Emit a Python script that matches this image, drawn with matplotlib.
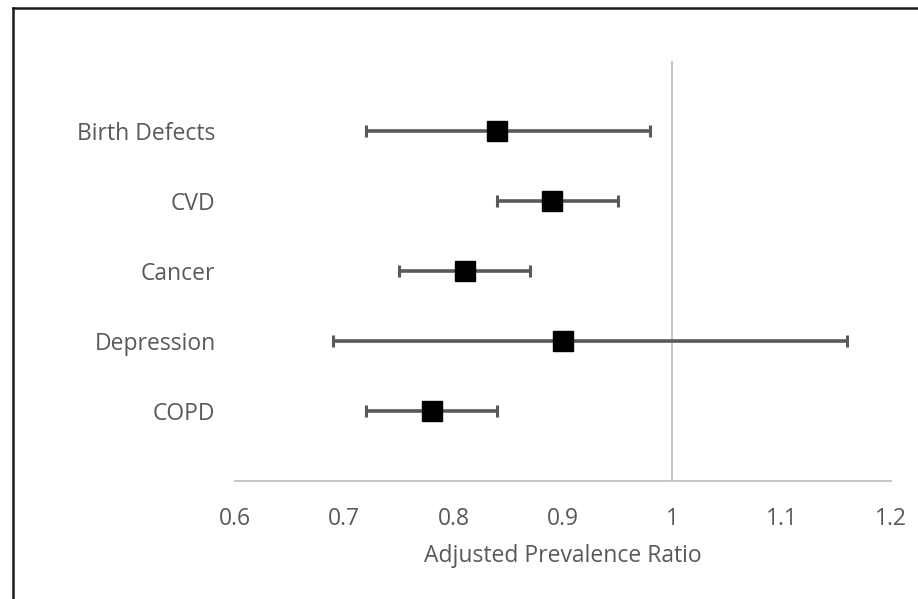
import matplotlib
matplotlib.use("Agg")
import matplotlib.pyplot as plt
from matplotlib.lines import Line2D

categories = ["Birth Defects", "CVD", "Cancer", "Depression", "COPD"]
estimates = [0.84, 0.89, 0.81, 0.90, 0.78]
lower = [0.72, 0.84, 0.75, 0.69, 0.72]
upper = [0.98, 0.95, 0.87, 1.16, 0.84]
x_ticks = [0.6, 0.7, 0.8, 0.9, 1.0, 1.1, 1.2]
x_tick_labels = ["0.6", "0.7", "0.8", "0.9", "1", "1.1", "1.2"]

plt.rcParams['font.family'] = ['Open Sans', 'DejaVu Sans']
TXT = "#595959"

W, H = 918, 599
fig = plt.figure(figsize=(W / 100, H / 100), dpi=100)
ax = fig.add_axes([235 / W, (H - 481) / H, (891 - 235) / W, (481 - 61) / H])

n = len(categories)
ys = [n - i for i in range(n)]
err_lo = [e - l for e, l in zip(estimates, lower)]
err_hi = [u - e for e, u in zip(estimates, upper)]

ax.axvline(1.0, color="#BFBFBF", lw=1.3, zorder=1)
ax.errorbar(estimates, ys, xerr=[err_lo, err_hi], fmt="none", ecolor="#595959",
            elinewidth=2.6, capsize=4.5, capthick=2.2, zorder=2)
ax.plot(estimates, ys, "s", color="black", markersize=15, zorder=3, linestyle="none")

ax.set_xlim(0.6, 1.2)
ax.set_ylim(0, 6)
ax.set_xticks(x_ticks)
ax.set_xticklabels(x_tick_labels)
ax.set_yticks(ys)
ax.set_yticklabels(categories)
ax.tick_params(axis="both", length=0, labelsize=16.5, colors=TXT)
ax.tick_params(axis="x", pad=19)
ax.tick_params(axis="y", pad=14)
for s in ["top", "right", "left"]:
    ax.spines[s].set_visible(False)
ax.spines["bottom"].set_color("#BFBFBF")
ax.spines["bottom"].set_linewidth(1.3)
ax.set_xlabel("Adjusted Prevalence Ratio", fontsize=16.5, color=TXT, labelpad=9)

# outer frame (top and left edges visible)
fig.add_artist(Line2D([13 / W, 13 / W], [0, 1 - 8 / H], transform=fig.transFigure,
                      color="#1a1a1a", lw=1.8))
fig.add_artist(Line2D([13 / W, 1], [1 - 8 / H, 1 - 8 / H], transform=fig.transFigure,
                      color="#1a1a1a", lw=1.8))

fig.savefig("out.png", dpi=100)
